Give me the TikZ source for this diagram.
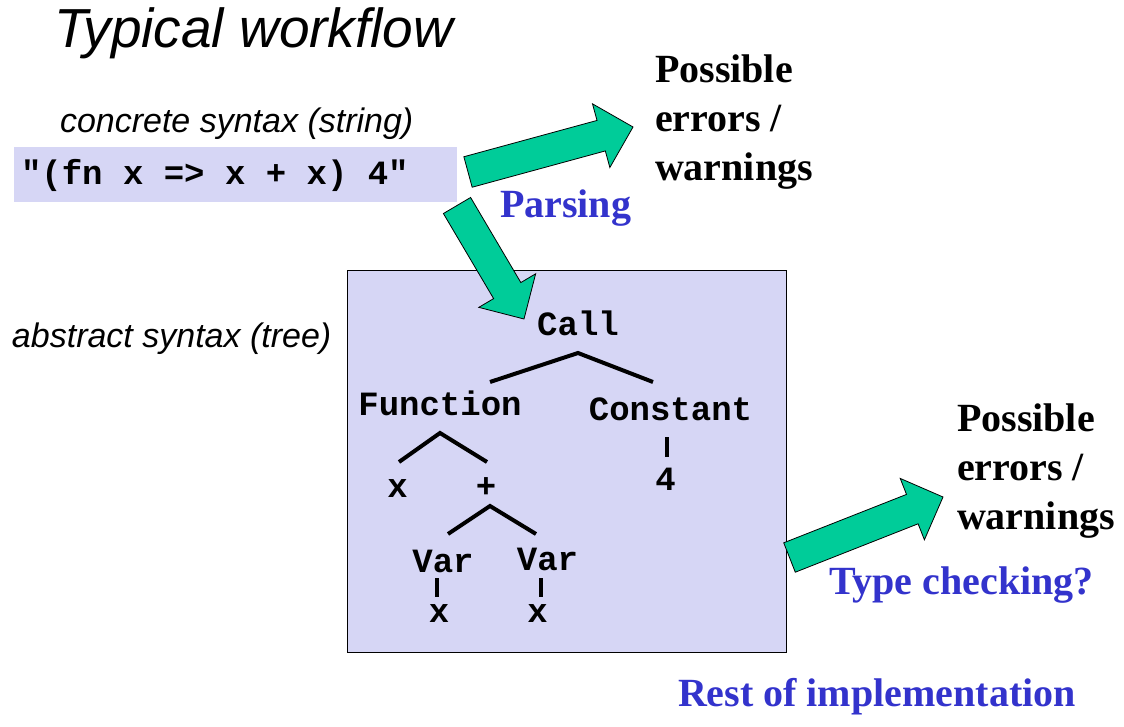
\documentclass[tikz,border=0pt]{standalone}
\usepackage{fontspec}
\setmainfont{Liberation Serif}
\newfontfamily\arialfont{Liberation Sans}
\newfontfamily\courfont{Liberation Mono}
\usetikzlibrary{calc}

\definecolor{lavender}{RGB}{214,214,245}
\definecolor{flowgreen}{RGB}{0,204,153}
\definecolor{stageblue}{RGB}{51,51,204}

% block arrow from tail coordinate #1 to tip coordinate #2
\newlength\shafthw \setlength\shafthw{15.8pt}
\newlength\headhw  \setlength\headhw{33pt}
\newlength\headlen \setlength\headlen{33pt}
\newcommand{\blockarrow}[3]{%
  \coordinate (#3-base) at ($(#2)!\headlen!(#1)$);
  \draw[flowarrow]
    ($(#1)!\shafthw!90:(#2)$) -- ($(#3-base)!\shafthw!90:(#2)$)
    -- ($(#3-base)!\headhw!90:(#2)$) -- (#2)
    -- ($(#3-base)!\headhw!-90:(#2)$) -- ($(#3-base)!\shafthw!-90:(#2)$)
    -- ($(#1)!\shafthw!-90:(#2)$) -- cycle;
}

\tikzset{
  txt/.style={inner sep=0pt, outer sep=0pt},
  heading/.style={txt, font=\arialfont\itshape\fontsize{55}{62}\selectfont},
  caption/.style={txt, font=\arialfont\itshape\fontsize{34}{40}\selectfont},
  code/.style={txt, font=\courfont\bfseries\fontsize{34}{40}\selectfont},
  outcome/.style={txt, align=left, font=\bfseries\fontsize{40}{49}\selectfont},
  stage/.style={txt, text=stageblue, font=\bfseries\fontsize{40}{48}\selectfont},
  treeedge/.style={line width=4pt},
  flowarrow/.style={fill=flowgreen, draw=black, line width=0.8pt, line join=miter},
}

\begin{document}
\begin{tikzpicture}[x=1pt,y=-1pt]
\useasboundingbox (0,0) rectangle (1124,727);

% title and captions
\node[heading, anchor=base west] (title) at (54,48) {Typical workflow};
\node[caption, anchor=base west] (concrete) at (60,133) {concrete syntax (string)};
\node[caption, anchor=base west] (abstract) at (12,347) {abstract syntax (tree)};

% source string
\node[fill=lavender, inner sep=0pt, minimum width=443pt, minimum height=55pt,
      anchor=north west] (srcbox) at (14,147) {};
\node[code, anchor=base west] (src) at (21,185) {"(fn x => x + x) 4"};

% abstract syntax tree
\node[fill=lavender, draw=black, line width=0.8pt, inner sep=0pt,
      minimum width=439pt, minimum height=382pt, anchor=north west] (tree) at (347,270) {};

\node[code, anchor=base] (call) at (578,335) {Call};
\node[code, anchor=base] (function) at (440,415) {Function};
\node[code, anchor=base] (constant) at (670.5,420) {Constant};
\node[code, anchor=base] (argx) at (397.5,497) {x};
\node[code, anchor=base] (plus) at (486,497) {+};
\node[code, anchor=base] (four) at (665.5,490) {4};
\node[code, anchor=base] (varl) at (443,572) {Var};
\node[code, anchor=base] (varr) at (547.5,570) {Var};
\node[code, anchor=base] (xl) at (439,622) {x};
\node[code, anchor=base] (xr) at (537.5,622) {x};

% tree edges
\coordinate (call-fork) at (578,353);
\coordinate (call-l) at (490,382);
\coordinate (call-r) at (653,382);
\draw[treeedge] (call-l) -- (call-fork) -- (call-r);

\coordinate (fn-fork) at (440,433);
\coordinate (fn-l) at (399,462);
\coordinate (fn-r) at (487,462);
\draw[treeedge] (fn-l) -- (fn-fork) -- (fn-r);

\coordinate (plus-fork) at (490,506);
\coordinate (plus-l) at (448,534);
\coordinate (plus-r) at (536,534);
\draw[treeedge] (plus-l) -- (plus-fork) -- (plus-r);

\draw[treeedge] (667,437) coordinate (const-top) -- (667,457) coordinate (const-bot);
\draw[treeedge] (437,578) coordinate (varl-top) -- (437,597) coordinate (varl-bot);
\draw[treeedge] (541,578) coordinate (varr-top) -- (541,597) coordinate (varr-bot);

% outcomes and stage labels (base anchor sits on the last line)
\node[outcome, anchor=base west] (err1) at (655,181) {Possible\\errors /\\warnings};
\node[outcome, anchor=base west] (err2) at (957,529) {Possible\\errors /\\warnings};
\node[stage, anchor=base west] (parsing) at (500,218) {Parsing};
\node[stage, anchor=base west] (typecheck) at (829,594) {Type checking?};
\node[stage, anchor=base west] (rest) at (678,706) {Rest of implementation};

% flow arrows
\coordinate (parse-err-tail) at (468,172);
\coordinate (parse-err-tip) at (633,127);
\blockarrow{parse-err-tail}{parse-err-tip}{parseerr}

\coordinate (parse-tree-tail) at (457,205.5);
\coordinate (parse-tree-tip) at (524,319);
\blockarrow{parse-tree-tail}{parse-tree-tip}{parsetree}

\coordinate (check-tail) at (789.5,557.5);
\coordinate (check-tip) at (943,497);
\blockarrow{check-tail}{check-tip}{check}
\end{tikzpicture}
\end{document}
